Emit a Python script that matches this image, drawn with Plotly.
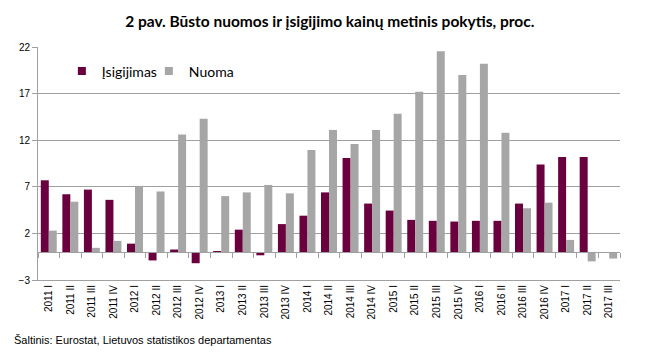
import plotly.graph_objects as go

categories = ["2011 I", "2011 II", "2011 III", "2011 IV",
              "2012 I", "2012 II", "2012 III", "2012 IV",
              "2013 I", "2013 II", "2013 III", "2013 IV",
              "2014 I", "2014 II", "2014 III", "2014 IV",
              "2015 I", "2015 II", "2015 III", "2015 IV",
              "2016 I", "2016 II", "2016 III", "2016 IV",
              "2017 I", "2017 II", "2017 III"]

isigijimas = [7.7, 6.2, 6.7, 5.6,
              0.9, -0.9, 0.27, -1.2,
              0.05, 2.4, -0.35, 3.0,
              3.9, 6.4, 10.1, 5.2,
              4.45, 3.45, 3.35, 3.27,
              3.35, 3.35, 5.2, 9.4,
              10.2, 10.2, None]

nuoma = [2.3, 5.4, 0.45, 1.2,
         7.1, 6.5, 12.6, 14.3,
         6.0, 6.4, 7.2, 6.3,
         10.95, 13.1, 11.6, 13.1,
         14.85, 17.2, 21.55, 19.0,
         20.2, 12.8, 4.7, 5.3,
         1.3, -1.0, -0.7]

y_ticks = [-3, 2, 7, 12, 17, 22]

PURPLE = "#6B003F"
GRAY = "#A6A6A6"
GRID = "#A0A0A0"

fig = go.Figure()
fig.add_trace(go.Bar(x=categories, y=isigijimas, name="Įsigijimas", showlegend=False,
                     marker=dict(color=PURPLE, line=dict(width=0))))
fig.add_trace(go.Bar(x=categories, y=nuoma, name="Nuoma", showlegend=False,
                     marker=dict(color=GRAY, line=dict(width=0))))
# legend entries with small square swatches
fig.add_trace(go.Scatter(x=[None], y=[None], mode="markers", name="Įsigijimas",
                         marker=dict(symbol="square", size=8, color=PURPLE)))
fig.add_trace(go.Scatter(x=[None], y=[None], mode="markers", name="Nuoma",
                         marker=dict(symbol="square", size=8, color=GRAY)))

n = len(categories)
fig.update_layout(
    width=653, height=353,
    margin=dict(l=38, r=33, t=47, b=73),
    paper_bgcolor="white", plot_bgcolor="white",
    barmode="group", bargap=0.26, bargroupgap=0,
    title=dict(text="<b>2 pav. Būsto nuomos ir įsigijimo kainų metinis pokytis, proc.</b>",
               x=0.505, xanchor="center", y=0.94, yanchor="middle",
               font=dict(family="Lato", size=15.5, color="#000000")),
    legend=dict(orientation="h", x=0.041, xanchor="left", y=0.895, yanchor="middle",
                font=dict(family="Lato", size=14, color="#000000"),
                bgcolor="rgba(0,0,0,0)", itemwidth=30, traceorder="normal",
                itemsizing="trace", tracegroupgap=0,
                entrywidth=42, entrywidthmode="pixels"),
    xaxis=dict(type="category", range=[-0.5, n - 0.5],
               tickangle=-90, ticks="", showgrid=False,
               showline=True, linecolor=GRID, linewidth=1,
               tickfont=dict(family="Liberation Sans", size=10, color="#000000")),
    xaxis2=dict(overlaying="x", anchor="free", position=3 / 25,
                range=[-0.5, n - 0.5], showgrid=False, zeroline=False,
                showline=True, linecolor=GRID, linewidth=1,
                ticks="outside", ticklen=5, tickcolor=GRID,
                tickvals=[i + 0.5 for i in range(-1, n)], showticklabels=False),
    yaxis=dict(range=[-3, 22], tickvals=y_ticks, showgrid=True, gridcolor=GRID,
               gridwidth=1, zeroline=False, showline=True, linecolor=GRID,
               ticks="outside", ticklen=5, tickcolor=GRID,
               tickfont=dict(family="Liberation Sans", size=10, color="#000000")),
    annotations=[dict(text="Šaltinis: Eurostat, Lietuvos statistikos departamentas",
                      xref="paper", yref="paper", x=-26 / 582, y=-(340 - 280) / 233,
                      xanchor="left", yanchor="middle", showarrow=False,
                      font=dict(family="Liberation Sans", size=11, color="#000000"))],
)
fig.add_trace(go.Scatter(x=[None], y=[None], xaxis="x2", showlegend=False, hoverinfo="skip"))

fig.write_html("out.html")
